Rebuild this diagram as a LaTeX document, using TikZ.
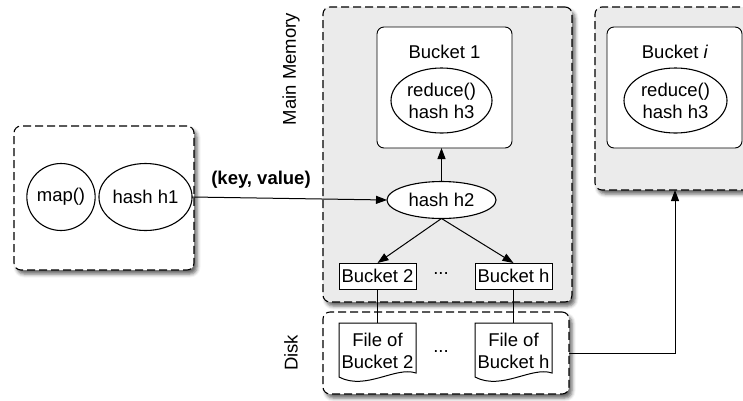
\documentclass[tikz,border=0pt]{standalone}
\usepackage{fontspec}
\setmainfont{Liberation Sans}
\usetikzlibrary{arrows.meta,shadows.blur,calc,shapes.geometric}
\definecolor{panelgray}{HTML}{EBEBEB}
\tikzset{
  base/.style={font=\fontsize{18.5}{22}\selectfont, inner sep=0pt, outer sep=0pt},
  panel/.style={base, draw, line width=1.1pt, dash pattern=on 8pt off 4pt, rounded corners=7pt,
     blur shadow={shadow xshift=3pt, shadow yshift=-4pt, shadow blur radius=3.5pt, shadow opacity=60}},
  bucketbox/.style={base, draw, line width=0.9pt, fill=white, rounded corners=7pt},
  oval/.style={base, draw, line width=1.1pt, ellipse, fill=white, align=center},
  smallbox/.style={base, draw, line width=1pt, fill=white, minimum width=77pt, minimum height=26pt},
  filebox/.style={base, align=center, minimum width=77pt, minimum height=56pt},
  conn/.style={line width=1pt},
  arr/.style={conn, -{Triangle[length=11pt,width=8pt]}},
  docpic/.pic={\draw[line width=1pt, fill=white] (-38.5,-28) -- (38.5,-28) -- (38.5,22)
      .. controls (18,15) and (-12,40) .. (-38.5,26) -- cycle;}
}
\begin{document}
\begin{tikzpicture}[x=1pt,y=-1pt]
\useasboundingbox (0,0) rectangle (743,400);
% outer panels
\node[panel, fill=white, minimum width=180pt, minimum height=144pt] (lb) at (104,198) {};
\node[panel, fill=panelgray, minimum width=249pt, minimum height=295pt] (mm) at (447.5,154.5) {};
\node[panel, fill=white, minimum width=246pt, minimum height=82pt] (disk) at (446,353) {};
\node[panel, fill=panelgray, minimum width=200pt, minimum height=183pt] (rb) at (695,98.5) {};
% left panel content
\node[oval, minimum width=68pt, minimum height=67pt] (map) at (61,197) {map()};
\node[oval, minimum width=87pt, minimum height=67pt] (h1) at (145.5,197) {hash h1};
% main memory
\node[bucketbox, minimum width=135pt, minimum height=121pt] (b1) at (444.5,87.5) {};
\node[base] (b1t) at (444.5,52) {Bucket 1};
\node[oval, minimum width=101pt, minimum height=65pt] (r1) at (441.5,100.5) {reduce()\\hash h3};
\node[oval, minimum width=109pt, minimum height=37pt] (h2) at (441.5,200) {hash h2};
\node[smallbox] (bk2) at (377.5,276) {Bucket 2};
\node[smallbox] (bkh) at (513.5,276) {Bucket h};
\node[base] (dots1) at (441,274) {...};
% right panel
\node[bucketbox, minimum width=135pt, minimum height=121pt] (bi) at (674.5,87.5) {};
\node[base] (bit) at (675,52) {Bucket \textit{i}};
\node[oval, minimum width=103pt, minimum height=65pt] (ri) at (675.5,100.5) {reduce()\\hash h3};
% disk
\pic at (377.5,351) {docpic};
\pic at (513.5,351) {docpic};
\node[filebox] (f2) at (377.5,351) {File of\\Bucket 2};
\node[filebox] (fh) at (513.5,351) {File of\\Bucket h};
\node[base] (dots2) at (441,352) {...};
% labels
\node[base, rotate=90] (mml) at (291,69) {Main Memory};
\node[base, rotate=90] (dl) at (291,353) {Disk};
\node[base, font=\fontsize{18.5}{22}\selectfont\bfseries] (kv) at (261,180) {(key, value)};
% connectors
\draw[arr] (h1.east) -- (h2.west);
\draw[arr] (h2.north) -- (h2.north |- b1.south);
\draw[arr] (h2.south) -- (bk2.north);
\draw[arr] (h2.south) -- (bkh.north);
\draw[conn] (bk2.south) -- (f2.north);
\draw[conn] (bkh.south) -- (fh.north);
\coordinate (rbin) at ($(rb.south west)+(80,0)$);
\draw[arr] (disk.east) -| (rbin);
\end{tikzpicture}
\end{document}
